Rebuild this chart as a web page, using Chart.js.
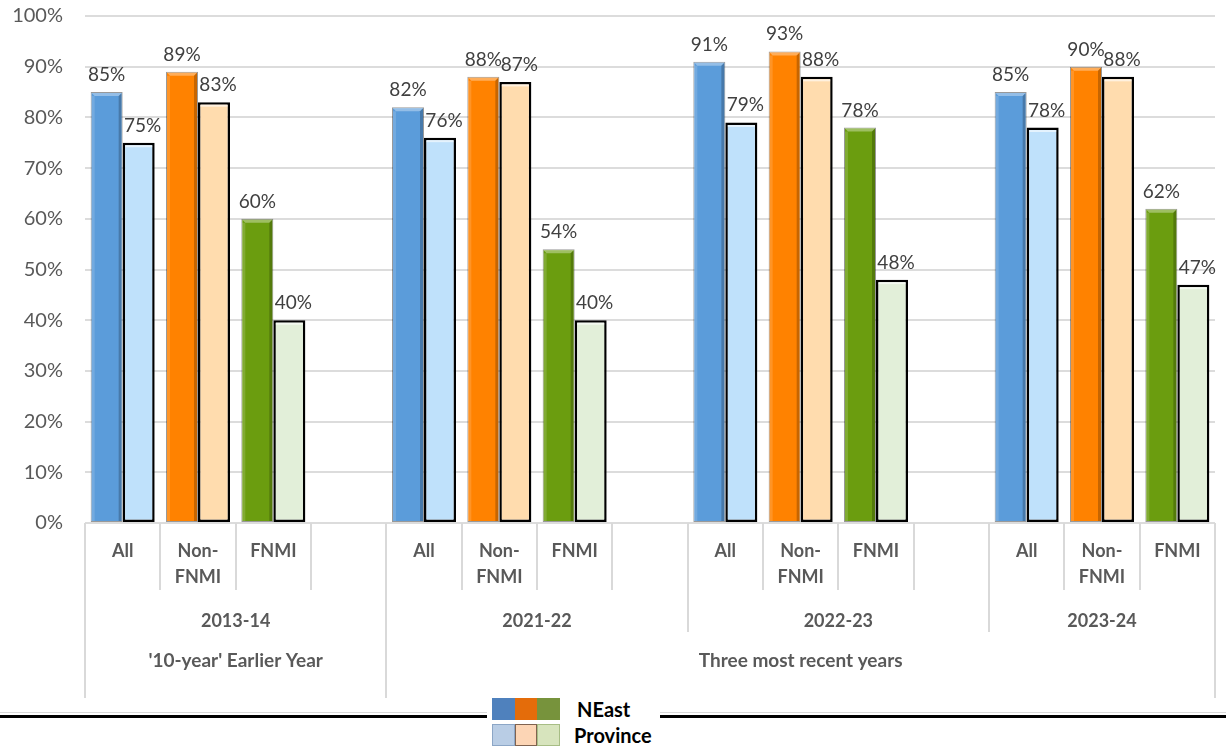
<!DOCTYPE html>
<html lang="en">
  <head>
    <meta charset="utf-8" />
    <title>Completion rates</title>
    <style>
      * {
        margin: 0;
        padding: 0;
        font-family: Lato, sans-serif;
      }
      body {
        background: #fff;
      }
      .chartCard {
        position: relative;
        width: 1226px;
        height: 746px;
        overflow: hidden;
      }
      #myChart {
        position: absolute;
        left: 0;
        top: 0;
      }
      .rule {
        position: absolute;
        left: 0;
        width: 1226px;
      }
      .rule.grey {
        top: 712px;
        height: 1px;
        background: #d9d9d9;
      }
      .rule.black {
        top: 715px;
        height: 3px;
        background: #000;
      }
      .legend {
        position: absolute;
        left: 487px;
        top: 690px;
        width: 173px;
        height: 56px;
        background: #fff;
      }
      .legend .row {
        position: absolute;
        left: 5px;
        display: flex;
        align-items: center;
      }
      .legend .sw {
        width: 22.7px;
        height: 22px;
        box-sizing: border-box;
      }
      .legend span {
        font-weight: bold;
        font-size: 20px;
        color: #000;
        margin-left: 17px;
      }
    </style>
  </head>
  <body>
    <div class="chartCard">
      <canvas id="myChart" width="1226" height="746"></canvas>
      <div class="rule grey"></div>
      <div class="rule black"></div>
      <div class="legend">
        <div class="row" id="rowNEast" style="top: 7px"></div>
        <div class="row" id="rowProvince" style="top: 33px"></div>
      </div>
    </div>
    <script src="https://cdn.jsdelivr.net/npm/chart.js"></script>

    <script>
      // setup
      const subLabels = ["All", ["Non-", "FNMI"], "FNMI"];
      const years = ["2013-14", "2021-22", "2022-23", "2023-24"];
      const periods = ["'10-year' Earlier Year", "Three most recent years"];
      const periodYears = [[0, 0], [1, 3]];

      const neastValues = [85, 89, 60, 82, 88, 54, 91, 93, 78, 85, 90, 62];
      const provinceValues = [75, 83, 40, 76, 87, 40, 79, 88, 48, 78, 88, 47];

      const neastColors = ["#5b9cda", "#ff8200", "#6b9d0f"];
      const provinceColors = ["#bfe1fb", "#ffdcae", "#e2efd9"];
      const legendNEast = ["#4f81bd", "#e46c0a", "#77933c"];
      const legendProvince = ["#b9cde5", "#fcd5b5", "#d7e4bd"];
      const legendProvinceBorder = ["#8ca6c6", "#7f6350", "#a7bd85"];

      // spread the values over slots, with an empty slot between years
      const labels = [];
      const neastData = [];
      const provinceData = [];
      const colorIdx = [];
      const yearStart = [];
      years.forEach((yr, g) => {
        yearStart.push(labels.length);
        subLabels.forEach((s, k) => {
          labels.push(s);
          neastData.push(neastValues[g * 3 + k]);
          provinceData.push(provinceValues[g * 3 + k]);
          colorIdx.push(k);
        });
        if (g < years.length - 1) {
          labels.push("");
          neastData.push(null);
          provinceData.push(null);
          colorIdx.push(0);
        }
      });
      const yearEnd = yearStart.map((s, g) =>
        g < years.length - 1 ? yearStart[g + 1] : labels.length
      );

      const data = {
        labels,
        datasets: [
          {
            label: "NEast",
            data: neastData,
            backgroundColor: colorIdx.map((k) => neastColors[k]),
            borderColor: "rgba(0,0,0,0.4)",
            borderWidth: 1,
            borderSkipped: false
          },
          {
            label: "Province",
            data: provinceData,
            backgroundColor: colorIdx.map((k) => provinceColors[k]),
            borderColor: "#000",
            borderWidth: 2.5,
            borderSkipped: false
          }
        ]
      };

      // plugins
      const bevelPlugin = {
        id: "bevelPlugin",
        afterDatasetsDraw(chart) {
          const ctx = chart.ctx;
          ctx.save();
          chart.getDatasetMeta(0).data.forEach((bar, i) => {
            if (neastData[i] == null) return;
            const { x, y, base, width } = bar.getProps(["x", "y", "base", "width"], true);
            const l = x - width / 2;
            const r = x + width / 2;
            const d = 4;
            ctx.fillStyle = "rgba(255,255,255,0.35)";
            ctx.beginPath();
            ctx.moveTo(l + 1, y + 1);
            ctx.lineTo(r - 1, y + 1);
            ctx.lineTo(r - d, y + d);
            ctx.lineTo(l + d, y + d);
            ctx.closePath();
            ctx.fill();
            ctx.fillStyle = "rgba(255,255,255,0.15)";
            ctx.fillRect(l + 1, y + d, d - 1, base - y - d - 1);
            ctx.fillStyle = "rgba(0,0,0,0.22)";
            ctx.beginPath();
            ctx.moveTo(r - 1, y + 1);
            ctx.lineTo(r - 1, base - 1);
            ctx.lineTo(r - d, base - 1);
            ctx.lineTo(r - d, y + d);
            ctx.closePath();
            ctx.fill();
          });
          chart.getDatasetMeta(1).data.forEach((bar, i) => {
            if (provinceData[i] == null) return;
            const { x, y, width } = bar.getProps(["x", "y", "width"], true);
            ctx.fillStyle = "rgba(255,255,255,0.6)";
            ctx.fillRect(x - width / 2 + 2.5, y + 2.5, width - 5, 2);
          });
          ctx.restore();
        }
      };

      const valueLabelsPlugin = {
        id: "valueLabelsPlugin",
        afterDatasetsDraw(chart) {
          const ctx = chart.ctx;
          ctx.save();
          ctx.font = "19px Lato";
          ctx.fillStyle = "#404040";
          ctx.textAlign = "center";
          ctx.textBaseline = "alphabetic";
          [neastData, provinceData].forEach((vals, ds) => {
            chart.getDatasetMeta(ds).data.forEach((bar, i) => {
              if (vals[i] == null) return;
              ctx.fillText(vals[i] + "%", bar.x + (ds ? 4 : 0), bar.y - 11);
            });
          });
          ctx.restore();
        }
      };

      const groupAxisPlugin = {
        id: "groupAxisPlugin",
        afterDraw(chart) {
          const { ctx, scales: { x } } = chart;
          const slotW = (x.right - x.left) / labels.length;
          const top = chart.chartArea.bottom;
          const periodEdges = [0, ...periodYears.map((p) => yearEnd[p[1]])];
          ctx.save();
          ctx.strokeStyle = "#d9d9d9";
          ctx.lineWidth = 2;
          for (let b = 0; b <= labels.length; b++) {
            let end = 590;
            if (periodEdges.includes(b)) end = 698;
            else if (yearStart.includes(b)) end = 632;
            const px = Math.round(x.left + b * slotW);
            ctx.beginPath();
            ctx.moveTo(px, top);
            ctx.lineTo(px, end);
            ctx.stroke();
          }
          ctx.fillStyle = "#595959";
          ctx.textAlign = "center";
          ctx.textBaseline = "alphabetic";
          ctx.font = "bold 18px Lato";
          years.forEach((yr, g) => {
            const cx = x.left + ((yearStart[g] + yearEnd[g]) / 2) * slotW;
            ctx.fillText(yr, cx, 627);
          });
          ctx.font = "bold 19px Lato";
          periods.forEach((p, k) => {
            const s = yearStart[periodYears[k][0]];
            const e = yearEnd[periodYears[k][1]];
            ctx.fillText(p, x.left + ((s + e) / 2) * slotW, 667);
          });
          ctx.restore();
        }
      };

      // config
      const config = {
        type: "bar",
        data,
        options: {
          responsive: false,
          animation: false,
          layout: { padding: { top: 16, right: 11, left: 0, bottom: 0 } },
          datasets: {
            bar: { categoryPercentage: 0.85, barPercentage: 1 }
          },
          plugins: {
            tooltip: { enabled: false },
            legend: { display: false }
          },
          scales: {
            y: {
              min: 0,
              max: 100,
              ticks: {
                stepSize: 10,
                padding: 0,
                color: "#595959",
                font: { family: "Lato", size: 20 },
                callback: (v) => v + "%"
              },
              grid: {
                color: "#dcdcdc",
                lineWidth: 2,
                drawTicks: true,
                tickLength: 22,
                tickColor: "rgba(0,0,0,0)"
              },
              border: { display: false },
              afterFit(scale) {
                scale.width = 85;
              }
            },
            x: {
              ticks: {
                autoSkip: false,
                maxRotation: 0,
                padding: 15,
                color: "#595959",
                font: { family: "Lato", size: 18, weight: "bold", lineHeight: 1.45 }
              },
              grid: { display: false, drawTicks: false },
              border: { display: false },
              afterFit(scale) {
                scale.height = 223;
              }
            }
          }
        },
        plugins: [bevelPlugin, valueLabelsPlugin, groupAxisPlugin]
      };

      // render init block
      const myChart = new Chart(document.getElementById("myChart"), config);

      // legend swatches
      const rowN = document.getElementById("rowNEast");
      legendNEast.forEach((c) => {
        const d = document.createElement("div");
        d.className = "sw";
        d.style.background = c;
        rowN.appendChild(d);
      });
      rowN.insertAdjacentHTML("beforeend", "<span>NEast</span>");
      const rowP = document.getElementById("rowProvince");
      legendProvince.forEach((c, k) => {
        const d = document.createElement("div");
        d.className = "sw";
        d.style.background = c;
        d.style.border = "1.5px solid " + legendProvinceBorder[k];
        rowP.appendChild(d);
      });
      rowP.insertAdjacentHTML("beforeend", '<span style="margin-left:14px">Province</span>');
    </script>
  </body>
</html>
